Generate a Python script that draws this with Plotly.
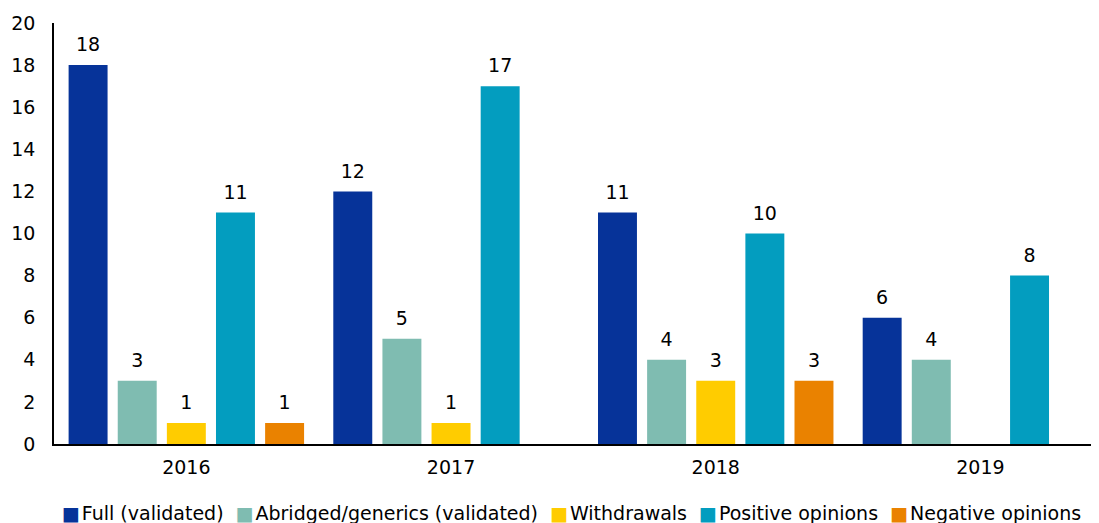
import plotly.graph_objects as go

years = ["2016", "2017", "2018", "2019"]
series_names = ["Full (validated)", "Abridged/generics (validated)", "Withdrawals",
                "Positive opinions", "Negative opinions"]
full_validated = [18, 12, 11, 6]
abridged_generics = [3, 5, 4, 4]
withdrawals = [1, 1, 3, None]
positive_opinions = [11, 17, 10, 8]
negative_opinions = [1, None, 3, None]
y_ticks = [0, 2, 4, 6, 8, 10, 12, 14, 16, 18, 20]

values = [full_validated, abridged_generics, withdrawals, positive_opinions, negative_opinions]
colors = ["#063399", "#7FBCB1", "#FFCC00", "#039DBF", "#EA8200"]

FONT = "Verdana, DejaVu Sans, sans-serif"
FS = 19

fig = go.Figure()
for name, vals, col in zip(series_names, values, colors):
    fig.add_trace(go.Bar(x=years, y=vals, name=name, marker=dict(color=col, line=dict(width=0)),
                         showlegend=False, hoverinfo="skip"))
for name, vals in zip(series_names, values):
    fig.add_trace(go.Scatter(x=years, y=vals, mode="markers+text",
                             text=[("" if v is None else str(v)) for v in vals],
                             textposition="top center",
                             textfont=dict(family=FONT, size=FS, color="#000000"),
                             marker=dict(size=13, color="rgba(0,0,0,0)"),
                             showlegend=False, hoverinfo="skip", cliponaxis=False))

legend_html = "&nbsp;&nbsp;".join(
    f"<span style='color:{c}'>■</span>&#8202;{n}" for n, c in zip(series_names, colors))
fig.add_annotation(text=legend_html, xref="paper", yref="paper", x=0.495, y=-0.164,
                   xanchor="center", yanchor="middle", showarrow=False,
                   font=dict(family=FONT, size=FS, color="#000000"))

# the page adds an 8px body margin, so the figure is 8px smaller than the window
fig.update_layout(
    width=1091, height=515,
    margin=dict(l=46, r=0, t=15, b=79),
    paper_bgcolor="white", plot_bgcolor="white",
    barmode="group", scattermode="group",
    bargap=0.072, bargroupgap=0.207, scattergap=0.072,
    font=dict(family=FONT, size=FS, color="#000000"),
)
fig.update_xaxes(type="category", range=[-0.5, 3.448], showline=True, linecolor="#000000",
                 linewidth=2, showgrid=False, ticks="", ticklabelstandoff=5,
                 tickfont=dict(family=FONT, size=FS, color="#000000"))
fig.update_yaxes(range=[0, 20], tickvals=y_ticks, showline=True, linecolor="#000000",
                 linewidth=1.5, showgrid=False, zeroline=False, ticks="",
                 ticklabelstandoff=13,
                 tickfont=dict(family=FONT, size=FS, color="#000000"))

fig.write_html("out.html")
